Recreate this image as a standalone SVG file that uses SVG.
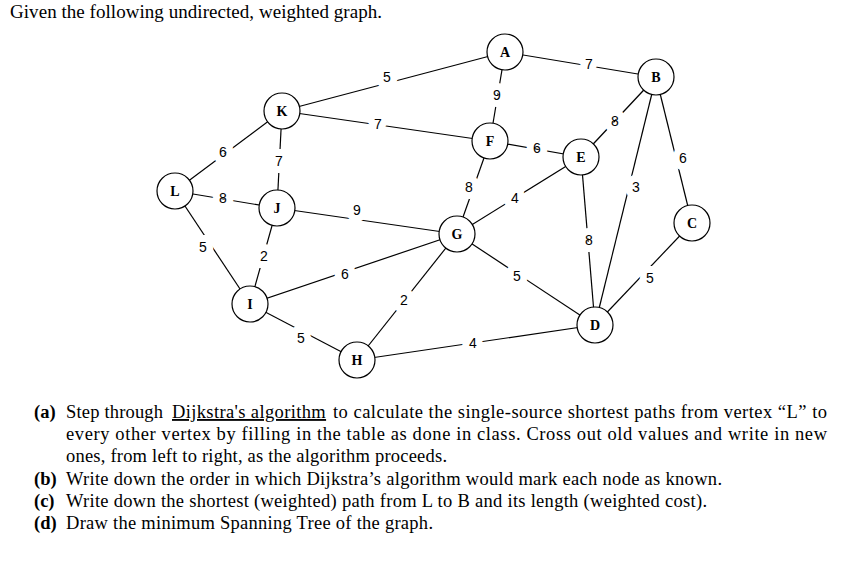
<svg xmlns="http://www.w3.org/2000/svg" width="854" height="565" viewBox="0 0 854 565">
<style>
.bg{fill:#ffffff}
.edge{stroke:#000;stroke-width:1.2;fill:none}
.w{font-family:"Liberation Sans",Arial,sans-serif;font-size:14px;fill:#000;text-anchor:middle;stroke:#fff;stroke-width:14;stroke-linejoin:round;paint-order:stroke}
.node circle{fill:#fff;stroke:#000;stroke-width:1.2}
.node text{font-family:"Liberation Serif","Times New Roman",serif;font-weight:bold;font-size:14px;text-anchor:middle;fill:#000}
.t{font-family:"Liberation Serif","Times New Roman",serif;font-size:18.5px;fill:#000}
.b{font-weight:bold}
.u{text-decoration:underline;text-decoration-skip-ink:none;letter-spacing:0.37px}
</style>
<rect class="bg" x="0" y="0" width="854" height="565"/>
<text class="t" x="10" y="18" style="font-size:19px" textLength="372" lengthAdjust="spacing">Given the following undirected, weighted graph.</text>
<g id="connectors">
<line class="edge" x1="175" y1="191" x2="282" y2="111"/>
<line class="edge" x1="175" y1="191" x2="277" y2="208"/>
<line class="edge" x1="175" y1="191" x2="250" y2="304"/>
<line class="edge" x1="282" y1="111" x2="277" y2="208"/>
<line class="edge" x1="282" y1="111" x2="505" y2="52"/>
<line class="edge" x1="282" y1="111" x2="490" y2="141"/>
<line class="edge" x1="277" y1="208" x2="457" y2="234"/>
<line class="edge" x1="277" y1="208" x2="250" y2="304"/>
<line class="edge" x1="250" y1="304" x2="457" y2="234"/>
<line class="edge" x1="250" y1="304" x2="357" y2="360"/>
<line class="edge" x1="357" y1="360" x2="457" y2="234"/>
<line class="edge" x1="357" y1="360" x2="595" y2="325"/>
<line class="edge" x1="457" y1="234" x2="595" y2="325"/>
<line class="edge" x1="457" y1="234" x2="581" y2="157"/>
<line class="edge" x1="457" y1="234" x2="490" y2="141"/>
<line class="edge" x1="505" y1="52" x2="490" y2="141"/>
<line class="edge" x1="505" y1="52" x2="656" y2="77"/>
<line class="edge" x1="490" y1="141" x2="581" y2="157"/>
<line class="edge" x1="581" y1="157" x2="656" y2="77"/>
<line class="edge" x1="656" y1="77" x2="595" y2="325"/>
<line class="edge" x1="656" y1="77" x2="692" y2="223"/>
<line class="edge" x1="581" y1="157" x2="595" y2="325"/>
<line class="edge" x1="595" y1="325" x2="692" y2="223"/>
<text class="w" x="223" y="157">6</text>
<text class="w" x="223" y="203">8</text>
<text class="w" x="203" y="252">5</text>
<text class="w" x="279" y="166">7</text>
<text class="w" x="387" y="82">5</text>
<text class="w" x="378" y="129">7</text>
<text class="w" x="357" y="215">9</text>
<text class="w" x="264" y="261">2</text>
<text class="w" x="345" y="279">6</text>
<text class="w" x="301" y="343">5</text>
<text class="w" x="404" y="305">2</text>
<text class="w" x="473" y="348">4</text>
<text class="w" x="517" y="281">5</text>
<text class="w" x="515" y="203">4</text>
<text class="w" x="469" y="192">8</text>
<text class="w" x="497" y="100">9</text>
<text class="w" x="589" y="69">7</text>
<text class="w" x="537" y="153">6</text>
<text class="w" x="615" y="126">8</text>
<text class="w" x="636" y="192">3</text>
<text class="w" x="683" y="163">6</text>
<text class="w" x="589" y="245">8</text>
<text class="w" x="650" y="283">5</text>
</g>
<g id="node-A" class="node"><circle cx="505" cy="52" r="18"/><text x="505" y="57">A</text></g>
<g id="node-B" class="node"><circle cx="656" cy="77" r="18"/><text x="656" y="82">B</text></g>
<g id="node-K" class="node"><circle cx="282" cy="111" r="18"/><text x="282" y="116">K</text></g>
<g id="node-F" class="node"><circle cx="490" cy="141" r="18"/><text x="490" y="146">F</text></g>
<g id="node-E" class="node"><circle cx="581" cy="157" r="18"/><text x="581" y="162">E</text></g>
<g id="node-L" class="node"><circle cx="175" cy="191" r="18"/><text x="175" y="196">L</text></g>
<g id="node-J" class="node"><circle cx="277" cy="208" r="18"/><text x="277" y="213">J</text></g>
<g id="node-C" class="node"><circle cx="692" cy="223" r="18"/><text x="692" y="228">C</text></g>
<g id="node-G" class="node"><circle cx="457" cy="234" r="18"/><text x="457" y="239">G</text></g>
<g id="node-I" class="node"><circle cx="250" cy="304" r="18"/><text x="250" y="309">I</text></g>
<g id="node-D" class="node"><circle cx="595" cy="325" r="18"/><text x="595" y="330">D</text></g>
<g id="node-H" class="node"><circle cx="357" cy="360" r="18"/><text x="357" y="365">H</text></g>
<g id="questions">
<text class="t b" x="34" y="418">(a)</text>
<text class="t" x="66" y="418" textLength="97" lengthAdjust="spacing">Step through</text>
<text class="t u" x="172" y="418">Dijkstra's algorithm</text>
<text class="t" x="333" y="418" textLength="494" lengthAdjust="spacing">to calculate the single-source shortest paths from vertex “L” to</text>
<text class="t" x="66" y="440" textLength="761" lengthAdjust="spacing">every other vertex by filling in the table as done in class. Cross out old values and write in new</text>
<text class="t" x="66" y="462" textLength="381" lengthAdjust="spacing">ones, from left to right, as the algorithm proceeds.</text>
<text class="t b" x="34" y="485">(b)</text>
<text class="t" x="66" y="485" textLength="656" lengthAdjust="spacing">Write down the order in which Dijkstra’s algorithm would mark each node as known.</text>
<text class="t b" x="34" y="507">(c)</text>
<text class="t" x="66" y="507" textLength="641" lengthAdjust="spacing">Write down the shortest (weighted) path from L to B and its length (weighted cost).</text>
<text class="t b" x="34" y="529">(d)</text>
<text class="t" x="66" y="529" textLength="367" lengthAdjust="spacing">Draw the minimum Spanning Tree of the graph.</text>
</g>
</svg>
